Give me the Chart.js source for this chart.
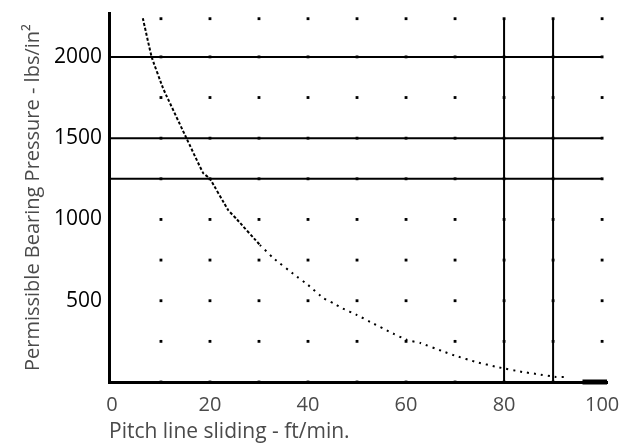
<!DOCTYPE html>
<html>
<head>
<meta charset="utf-8">
<script src="https://cdn.jsdelivr.net/npm/chart.js@4"></script>
<style>
    html, body { margin: 0; padding: 0; background: #fff; }
    #wrap { width: 621px; height: 446px; }
</style>
</head>
<body>
<div id="wrap"><canvas id="chart" width="621" height="446"></canvas></div>
<script>
// --- DATA ---
const curveSpeed = [6.3, 8.1, 10.4, 11.2, 15.2, 18.6, 20.0, 23.7, 25.5, 30.2, 32.9, 37.3, 40.0, 43.1, 45.1, 46.9, 50.0, 53.1, 56.7, 60.2, 62.9, 67.3, 70.2, 74.3, 78.6, 83.7, 86.7, 90.6, 92.9];
const curvePressure = [2238, 2000, 1809, 1756, 1500, 1286, 1250, 1058, 1000, 843, 763, 658, 597, 517, 486, 455, 412, 363, 308, 258, 240, 191, 160, 123, 92, 62, 49, 31, 31];
const tailSpeed = [96, 101];
const tailPressure = [0, 0];
const limitPressures = [2000, 1500, 1250];
const limitSpeeds = [80, 90];
const limitTop = 2240;
const dotSpeeds = [10, 20, 30, 40, 50, 60, 70, 80, 90, 100];
const dotPressures = [0, 250, 500, 750, 1000, 1250, 1500, 1750, 2000, 2235];
const xTicks = [0, 20, 40, 60, 80, 100];
const yTicks = [500, 1000, 1500, 2000];

const FONT = "'Open Sans', 'Noto Sans', sans-serif";

const datasets = [];

// curve
datasets.push({
    type: 'line',
    data: curveSpeed.map((x, i) => ({ x: x, y: curvePressure[i] })),
    borderColor: '#000',
    borderWidth: 2,
    borderDash: [2, 4],
    pointRadius: 0,
    tension: 0.1,
    clip: false,
    segment: {
        borderDash: ctx => ctx.p0.parsed.x < 30 ? [3, 2] : [2, 5]
    }
});

// thick end piece on the axis
datasets.push({
    type: 'line',
    data: tailSpeed.map((x, i) => ({ x: x, y: tailPressure[i] })),
    borderColor: '#000',
    borderWidth: 5,
    pointRadius: 0,
    clip: false
});

// horizontal limit lines
limitPressures.forEach(p => {
    datasets.push({
        type: 'line',
        data: [{ x: -0.6, y: p }, { x: 100, y: p }],
        borderColor: '#000',
        borderWidth: 2,
        pointRadius: 0
    });
});

// vertical limit lines
limitSpeeds.forEach(s => {
    datasets.push({
        type: 'line',
        data: [{ x: s, y: 0 }, { x: s, y: limitTop }],
        borderColor: '#000',
        borderWidth: 2,
        pointRadius: 0
    });
});

// dotted grid
const dots = [];
dotSpeeds.forEach(x => dotPressures.forEach(y => dots.push({ x: x, y: y })));
datasets.push({
    type: 'scatter',
    data: dots,
    pointStyle: 'rect',
    pointRadius: 2,
    backgroundColor: '#000',
    borderWidth: 0,
    clip: false
});

new Chart(document.getElementById('chart').getContext('2d'), {
    type: 'scatter',
    data: { datasets: datasets },
    options: {
        responsive: false,
        animation: false,
        layout: { padding: { top: 13, right: 14, bottom: 0, left: 0 } },
        plugins: { legend: { display: false }, tooltip: { enabled: false } },
        scales: {
            x: {
                type: 'linear',
                min: -0.6,
                max: 101,
                afterBuildTicks: s => { s.ticks = xTicks.map(v => ({ value: v })); },
                afterFit: s => { s.height = 64; s.paddingRight = 0; s.paddingLeft = 0; },
                grid: { display: false, drawTicks: false },
                border: { display: true, color: '#000', width: 3 },
                ticks: { color: '#4a4a4a', padding: 11, font: { family: FONT, size: 20 }, maxRotation: 0 },
                title: {
                    display: true,
                    text: 'Pitch line sliding - ft/min.',
                    align: 'start',
                    color: '#4a4a4a',
                    font: { family: FONT, size: 21 },
                    padding: { top: 0, bottom: 1 }
                }
            },
            y: {
                type: 'linear',
                min: 0,
                max: 2270,
                afterBuildTicks: s => { s.ticks = yTicks.map(v => ({ value: v })); },
                afterFit: s => { s.width = 109; s.paddingTop = 0; s.paddingBottom = 0; },
                grid: { display: false, drawTicks: false },
                border: { display: true, color: '#000', width: 3 },
                ticks: {
                    color: '#000',
                    padding: 7,
                    font: { family: FONT, size: 21 },
                    callback: v => String(v)
                },
                title: {
                    display: true,
                    text: 'Permissible Bearing Pressure - lbs/in²',
                    color: '#4a4a4a',
                    font: { family: FONT, size: 20 },
                    padding: { top: 21, bottom: 0 }
                }
            }
        }
    }
});
</script>
</body>
</html>
